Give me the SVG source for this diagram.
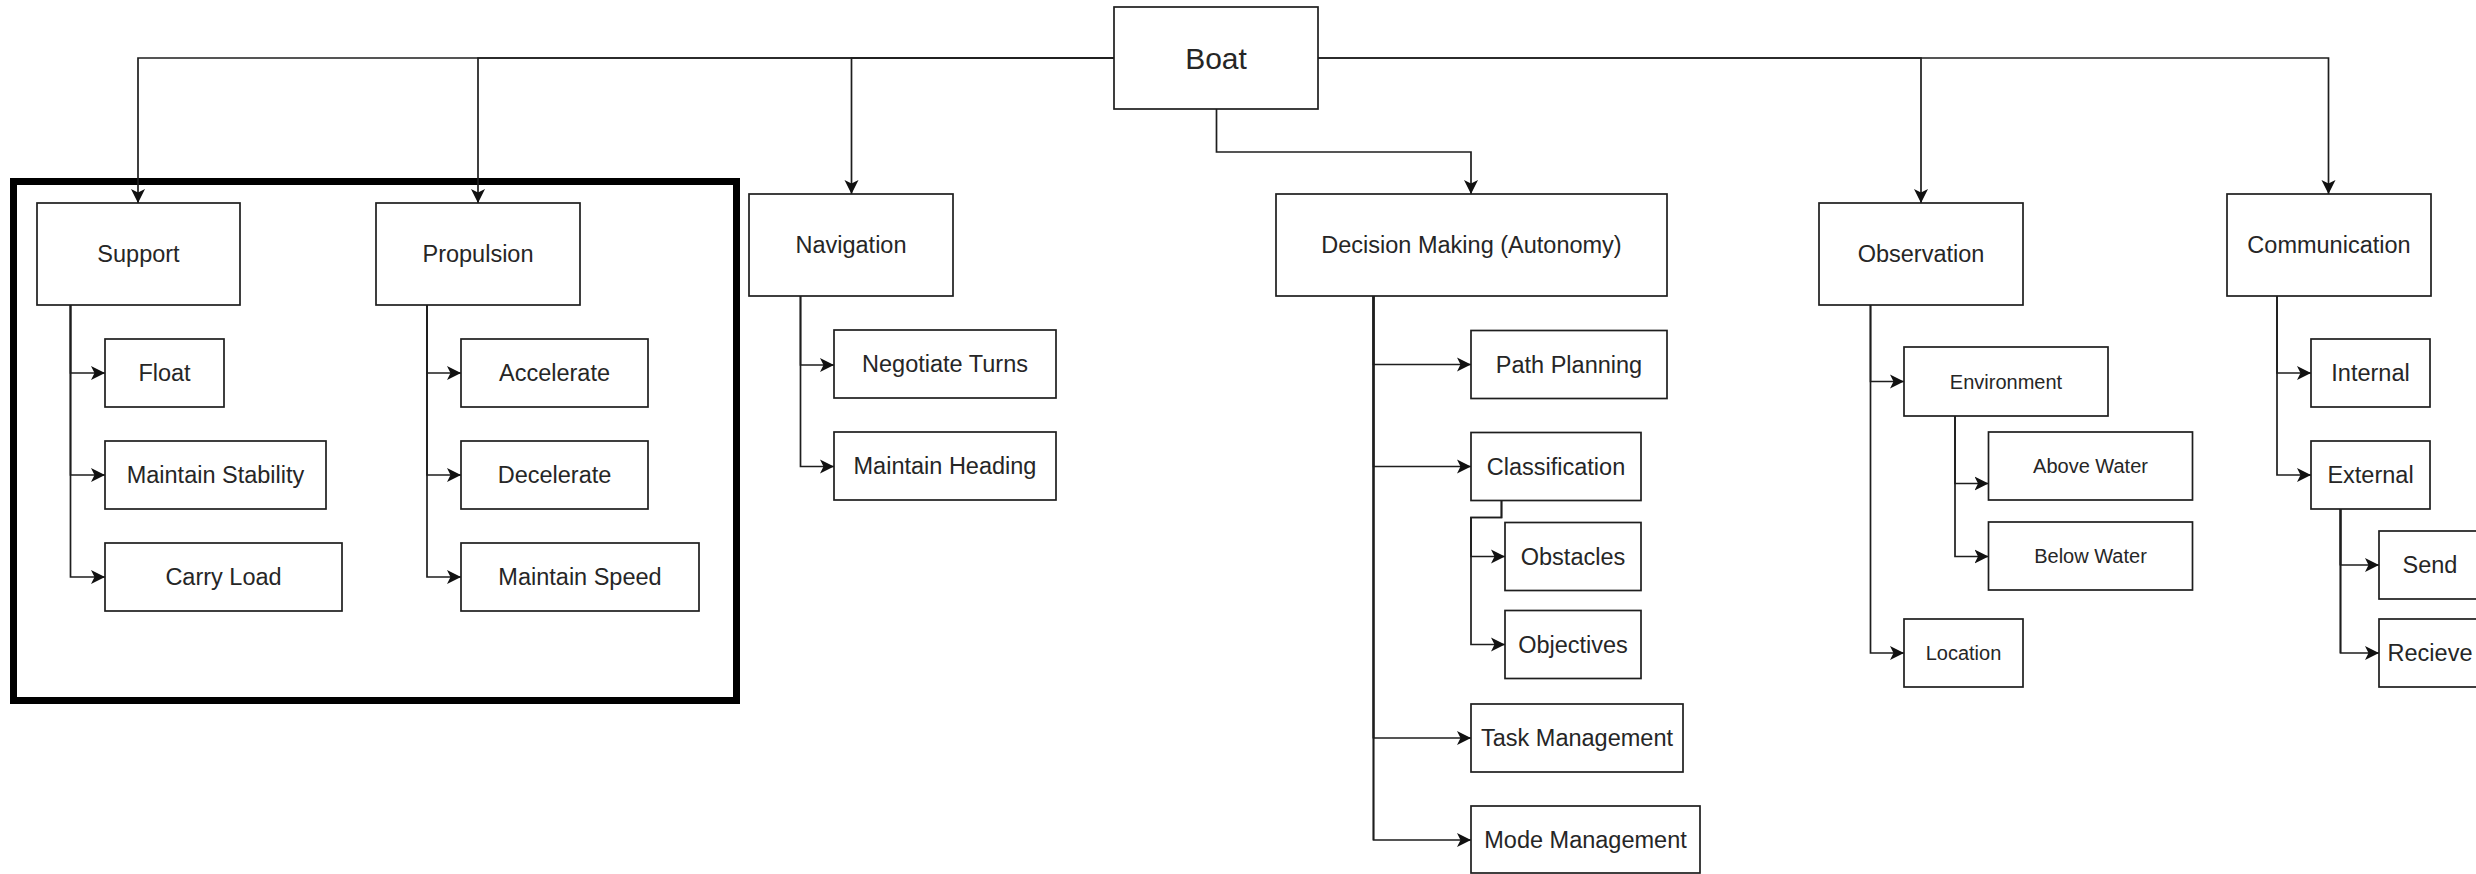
<svg xmlns="http://www.w3.org/2000/svg" width="2476" height="874" viewBox="0 0 2476 874">
<style>
  .box { fill: #ffffff; stroke: #1e1e1e; stroke-width: 1.7; }
  .t { font-family: "Liberation Sans", Arial, Helvetica, sans-serif; font-size: 23.5px; fill: #262626; text-anchor: middle; dominant-baseline: central; }
  .big { font-size: 30px; }
  .sm { font-size: 20px; }
  .e { fill: none; stroke: #1e1e1e; stroke-width: 1.7; marker-end: url(#arr); }
  .trunk { fill: none; stroke: #1e1e1e; stroke-width: 2.4; }
  .trunkLow { fill: none; stroke: #6a6a6a; stroke-width: 2; }
</style>
<defs>
  <marker id="arr" markerUnits="userSpaceOnUse" markerWidth="16" markerHeight="16" refX="14" refY="7.5" orient="auto">
    <path d="M0,0.5 L14,7.5 L0,14.5 L3.5,7.5 Z" fill="#111111"/>
  </marker>
</defs>
<rect width="2476" height="874" fill="#ffffff"/>

<g id="group-frame">
  <rect x="13.5" y="181.5" width="723" height="519" fill="none" stroke="#000000" stroke-width="7"/>
</g>

<g id="connectors">
  <!-- Boat to top level -->
  <path class="e" d="M1114,58 H138 V203"/>
  <path class="e" d="M1114,58 H478 V203"/>
  <path class="e" d="M1114,58 H851.5 V194"/>
  <path class="e" d="M1216.5,109 V152 H1471 V194"/>
  <path class="e" d="M1318,58 H1921 V203"/>
  <path class="e" d="M1318,58 H2328.5 V194"/>
  <!-- Support -->
  <path class="e" d="M70.5,305 V373 H105"/>
  <path class="e" d="M70.5,305 V475 H105"/>
  <path class="e" d="M70.5,305 V577 H105"/>
  <!-- Propulsion -->
  <path class="e" d="M427,305 V373 H461"/>
  <path class="e" d="M427,305 V475 H461"/>
  <path class="e" d="M427,305 V577 H461"/>
  <!-- Navigation -->
  <path class="e" d="M800.5,296 V365 H834"/>
  <path class="e" d="M800.5,296 V466.5 H834"/>
  <!-- Decision Making -->
  <path class="trunk" d="M1373.5,296 V738"/>
  <path class="trunkLow" d="M1373.5,738 V840"/>
  <path class="e" d="M1373.5,296 V364.5 H1471"/>
  <path class="e" d="M1373.5,296 V466.5 H1471"/>
  <path class="e" d="M1373.5,296 V738 H1471"/>
  <path class="e" d="M1373.5,738 V840 H1471"/>
  <!-- Classification -->
  <path class="e" d="M1501.5,500 V517.5 H1471 V556.5 H1505"/>
  <path class="e" d="M1501.5,500 V517.5 H1471 V644.5 H1505"/>
  <!-- Observation -->
  <path class="e" d="M1870.5,305 V381.5 H1904"/>
  <path class="e" d="M1870.5,305 V653 H1904"/>
  <path class="e" d="M1955,416 V483.5 H1988.5"/>
  <path class="e" d="M1955,416 V556.5 H1988.5"/>
  <!-- Communication -->
  <path class="e" d="M2277,296 V373 H2311"/>
  <path class="e" d="M2277,296 V475 H2311"/>
  <path class="trunk" d="M2340.5,509 V565"/>
  <path class="trunkLow" d="M2340.5,565 V653"/>
  <path class="e" d="M2340.5,509 V565 H2379"/>
  <path class="e" d="M2340.5,565 V653 H2379"/>
</g>

<g id="node-boat"><rect class="box" x="1114" y="7" width="204" height="102"/><text class="t big" x="1216" y="58">Boat</text></g>

<g id="node-support"><rect class="box" x="37" y="203" width="203" height="102"/><text class="t" x="138.5" y="254">Support</text></g>
<g id="node-float"><rect class="box" x="105" y="339" width="119" height="68"/><text class="t" x="164.5" y="373">Float</text></g>
<g id="node-maintain-stability"><rect class="box" x="105" y="441" width="221" height="68"/><text class="t" x="215.5" y="475">Maintain Stability</text></g>
<g id="node-carry-load"><rect class="box" x="105" y="543" width="237" height="68"/><text class="t" x="223.5" y="577">Carry Load</text></g>

<g id="node-propulsion"><rect class="box" x="376" y="203" width="204" height="102"/><text class="t" x="478" y="254">Propulsion</text></g>
<g id="node-accelerate"><rect class="box" x="461" y="339" width="187" height="68"/><text class="t" x="554.5" y="373">Accelerate</text></g>
<g id="node-decelerate"><rect class="box" x="461" y="441" width="187" height="68"/><text class="t" x="554.5" y="475">Decelerate</text></g>
<g id="node-maintain-speed"><rect class="box" x="461" y="543" width="238" height="68"/><text class="t" x="580" y="577">Maintain Speed</text></g>

<g id="node-navigation"><rect class="box" x="749" y="194" width="204" height="102"/><text class="t" x="851" y="245">Navigation</text></g>
<g id="node-negotiate-turns"><rect class="box" x="834" y="330" width="222" height="68"/><text class="t" x="945" y="364">Negotiate Turns</text></g>
<g id="node-maintain-heading"><rect class="box" x="834" y="432" width="222" height="68"/><text class="t" x="945" y="466">Maintain Heading</text></g>

<g id="node-decision-making"><rect class="box" x="1276" y="194" width="391" height="102"/><text class="t" x="1471.5" y="245">Decision Making (Autonomy)</text></g>
<g id="node-path-planning"><rect class="box" x="1471" y="330.5" width="196" height="68"/><text class="t" x="1569" y="364.5">Path Planning</text></g>
<g id="node-classification"><rect class="box" x="1471" y="432.5" width="170" height="68"/><text class="t" x="1556" y="466.5">Classification</text></g>
<g id="node-obstacles"><rect class="box" x="1505" y="522.5" width="136" height="68"/><text class="t" x="1573" y="556.5">Obstacles</text></g>
<g id="node-objectives"><rect class="box" x="1505" y="610.5" width="136" height="68"/><text class="t" x="1573" y="644.5">Objectives</text></g>
<g id="node-task-management"><rect class="box" x="1471" y="704" width="212" height="68"/><text class="t" x="1577" y="738">Task Management</text></g>
<g id="node-mode-management"><rect class="box" x="1471" y="806" width="229" height="67"/><text class="t" x="1585.5" y="840">Mode Management</text></g>

<g id="node-observation"><rect class="box" x="1819" y="203" width="204" height="102"/><text class="t" x="1921" y="254">Observation</text></g>
<g id="node-environment"><rect class="box" x="1904" y="347" width="204" height="69"/><text class="t sm" x="2006" y="381.5">Environment</text></g>
<g id="node-above-water"><rect class="box" x="1988.5" y="432" width="204" height="68"/><text class="t sm" x="2090.5" y="466">Above Water</text></g>
<g id="node-below-water"><rect class="box" x="1988.5" y="522" width="204" height="68"/><text class="t sm" x="2090.5" y="556">Below Water</text></g>
<g id="node-location"><rect class="box" x="1904" y="619" width="119" height="68"/><text class="t sm" x="1963.5" y="653">Location</text></g>

<g id="node-communication"><rect class="box" x="2227" y="194" width="204" height="102"/><text class="t" x="2329" y="245">Communication</text></g>
<g id="node-internal"><rect class="box" x="2311" y="339" width="119" height="68"/><text class="t" x="2370.5" y="373">Internal</text></g>
<g id="node-external"><rect class="box" x="2311" y="441" width="119" height="68"/><text class="t" x="2370.5" y="475">External</text></g>
<g id="node-send"><rect class="box" x="2379" y="531" width="102" height="68"/><text class="t" x="2430" y="565">Send</text></g>
<g id="node-recieve"><rect class="box" x="2379" y="619" width="102" height="68"/><text class="t" x="2430" y="653">Recieve</text></g>
</svg>
